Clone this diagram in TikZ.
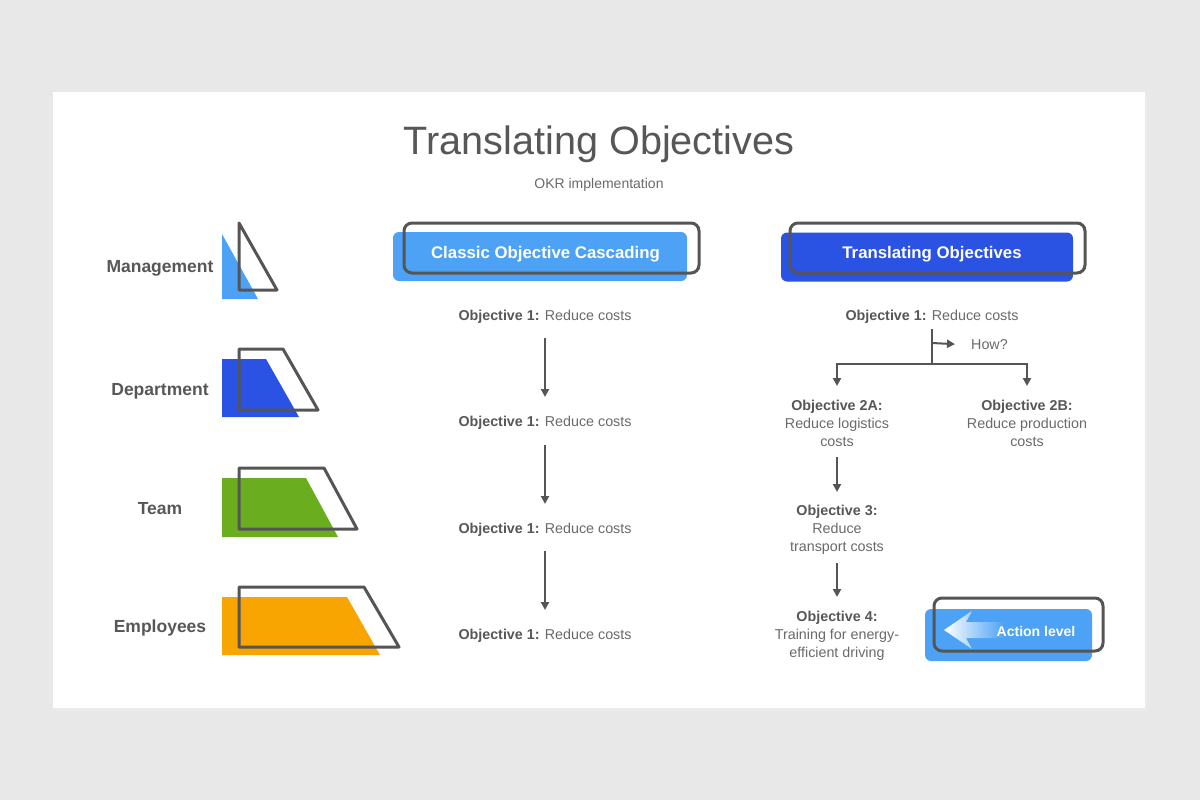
\documentclass[tikz,border=0pt]{standalone}
\usepackage{fontspec}
\setmainfont{Liberation Sans}
\usetikzlibrary{arrows.meta,calc}
\definecolor{bgc}{HTML}{E9E8E9}
\definecolor{lblue}{HTML}{4DA2F6}
\definecolor{dblue}{HTML}{2A52E3}
\definecolor{grn}{HTML}{6AAE1F}
\definecolor{orng}{HTML}{F8A502}
\definecolor{outl}{HTML}{555555}
\definecolor{txtd}{HTML}{575757}
\definecolor{txtl}{HTML}{6A6A6A}
\tikzset{
  outline/.style={draw=outl, line width=3pt, line join=round},
  lvl/.style={font=\fontsize{17.5}{20}\selectfont\bfseries, text=txtd, inner sep=0pt},
  obj/.style={font=\fontsize{14.3}{18}\selectfont, text=txtl, inner sep=0pt, align=center},
  hdrfill/.style={rounded corners=6pt, minimum width=294pt, minimum height=49pt, inner sep=0pt,
     font=\fontsize{16.8}{20}\selectfont\bfseries, text=white},
  hdrline/.style={draw=outl, line width=3pt, rounded corners=8pt, inner sep=0pt},
  conn/.style={draw=outl, line width=2pt},
  arr/.style={conn, -{Triangle[length=8pt,width=8pt]}},
}
\newcommand{\ob}[1]{{\color{txtd}\bfseries #1}}
\begin{document}
\begin{tikzpicture}[x=1pt,y=-1pt]
\useasboundingbox (0,0) rectangle (1200,800);
\fill[bgc] (0,0) rectangle (1200,800);
\fill[black!8] (55,95) rectangle (1147,711);
\fill[white] (53,92) rectangle (1145,708);

% title
\node[font=\fontsize{39.6}{44}\selectfont, text=txtd, inner sep=0pt] (title) at (599,144) {Translating Objectives};
\node[font=\fontsize{14}{16}\selectfont, text=txtl, inner sep=0pt] (sub) at (599,185) {OKR implementation};

% level labels
\node[lvl] (lm) at (160,268) {Management};
\node[lvl] (ld) at (160,391) {Department};
\node[lvl] (lt) at (160,509) {Team};
\node[lvl] (le) at (160,628) {Employees};

% level shapes
\fill[lblue] (222,234) -- (258,299) -- (222,299) -- cycle;
\draw[outline] (239,223) -- (277,290) -- (239,290) -- cycle;
\fill[dblue] (222,359) -- (266,359) -- (299,417) -- (222,417) -- cycle;
\draw[outline] (239,349) -- (283,349) -- (318,410) -- (239,410) -- cycle;
\fill[grn] (222,478) -- (306,478) -- (338,537) -- (222,537) -- cycle;
\draw[outline] (239,468) -- (324,468) -- (357,529) -- (239,529) -- cycle;
\fill[orng] (222,597) -- (347,597) -- (380,655) -- (222,655) -- cycle;
\draw[outline] (239,587) -- (364,587) -- (399,647) -- (239,647) -- cycle;

% headers
\node[hdrfill, fill=lblue] (h1) at (540,256.5) {};
\node[font=\fontsize{16.8}{20}\selectfont\bfseries, text=white, inner sep=0pt] (h1t) at (545.5,254) {Classic Objective Cascading};
\node[hdrline, minimum width=295pt, minimum height=50pt] (h1o) at (551.5,248) {};
\node[hdrfill, fill=dblue, minimum width=292pt] (h2) at (927,257) {};
\node[font=\fontsize{16.8}{20}\selectfont\bfseries, text=white, inner sep=0pt] (h2t) at (932,254) {Translating Objectives};
\node[hdrline, minimum width=295pt, minimum height=50pt] (h2o) at (937.5,248) {};

% classic cascade
\node[obj] (c1) at (545,317) {\ob{Objective 1:} Reduce costs};
\node[obj] (c2) at (545,423) {\ob{Objective 1:} Reduce costs};
\node[obj] (c3) at (545,530) {\ob{Objective 1:} Reduce costs};
\node[obj] (c4) at (545,636) {\ob{Objective 1:} Reduce costs};
\draw[arr, shorten <=21pt, shorten >=26pt] (c1.center) -- (c2.center);
\draw[arr, shorten <=22pt, shorten >=26pt] (c2.center) -- (c3.center);
\draw[arr, shorten <=21pt, shorten >=26pt] (c3.center) -- (c4.center);

% translating tree
\node[obj] (r1) at (932,317) {\ob{Objective 1:} Reduce costs};
\coordinate (hw) at (932,343);
\coordinate (jn) at (932,364);
\node[obj, anchor=west] (how) at (971,345) {How?};
\node[obj] (o2a) at (837,423) {\ob{Objective 2A:}\\Reduce logistics\\costs};
\node[obj] (o2b) at (1027,423) {\ob{Objective 2B:}\\Reduce production\\costs};
\node[obj] (o3) at (837,530) {\ob{Objective 3:}\\Reduce\\transport costs};
\node[obj] (o4) at (837,636) {\ob{Objective 4:}\\Training for energy-\\efficient driving};
\draw[conn, shorten <=12pt] (r1.center) -- (jn);
\draw[arr, shorten >=16pt] (hw) -- (how.west);
\draw[arr] (jn) -| ([yshift=37pt]o2a.center);
\draw[arr] (jn) -| ([yshift=37pt]o2b.center);
\draw[arr, shorten <=34pt, shorten >=38pt] (o2a.center) -- (o3.center);
\draw[arr, shorten <=33pt, shorten >=39pt] (o3.center) -- (o4.center);

% action level
\node[fill=lblue, rounded corners=6pt, minimum width=167pt, minimum height=52pt, inner sep=0pt] (act) at (1008.5,635) {};
\shade[left color=white, middle color=white, right color=lblue]
  (944,630) -- (972,611) -- (966,622) -- (1004,622) -- (1004,638) -- (966,638) -- (972,649) -- cycle;
\node[font=\fontsize{14}{16}\selectfont\bfseries, text=white, inner sep=0pt] (actt) at (1036,631) {Action level};
\node[hdrline, minimum width=169pt, minimum height=53pt] (acto) at (1018.5,624.5) {};
\end{tikzpicture}
\end{document}
